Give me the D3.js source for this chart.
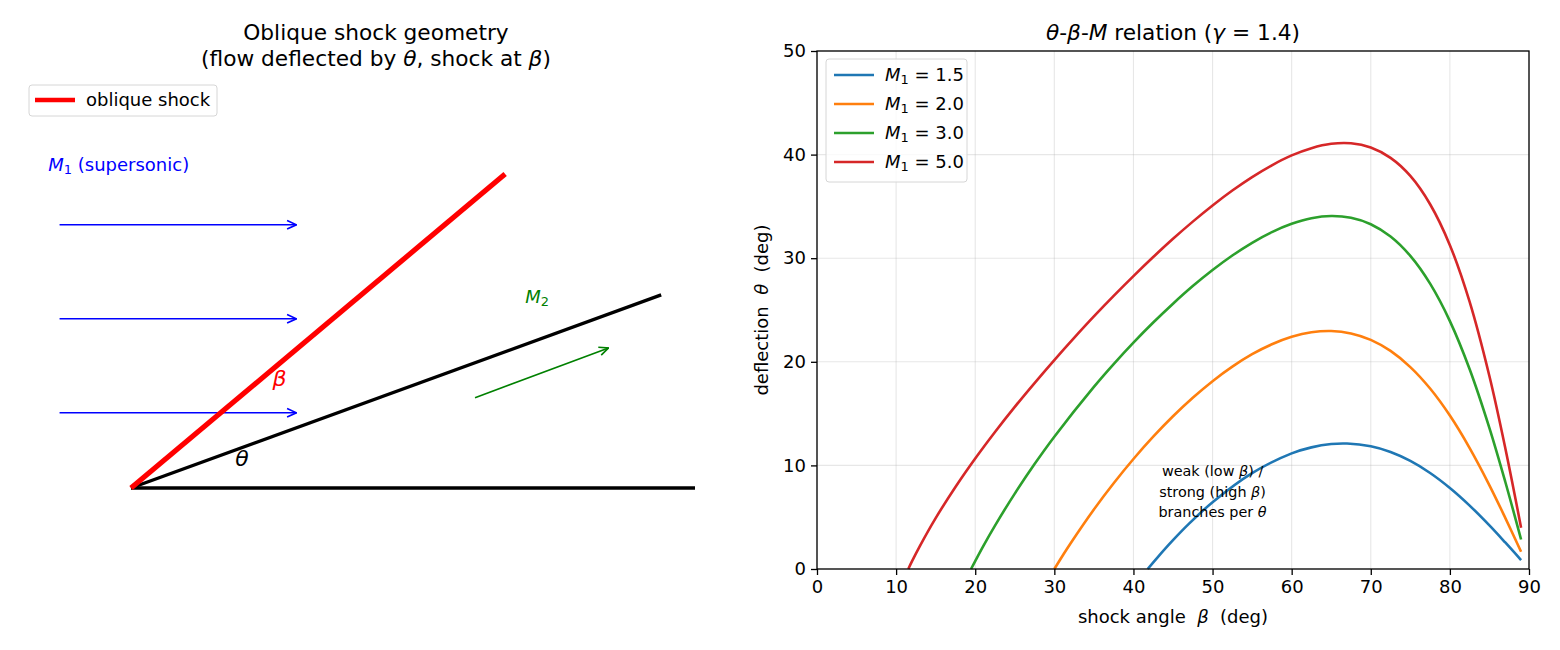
<!DOCTYPE html>
<meta charset="utf-8">
<script src="https://d3js.org/d3.v7.min.js"></script>
<style>
  body { margin: 0; background: #fff; }
  text { font-family: "DejaVu Sans", sans-serif; white-space: pre; }
</style>
<div id="chart"></div>
<script>

// ---- data: theta-beta-M curves (beta deg, theta deg) ----
var machLabels = ["1.5", "2.0", "3.0", "5.0"];
var colors = ["#1f77b4", "#ff7f0e", "#2ca02c", "#d62728"];

var betaM15  = [41.8, 43, 45, 47, 50, 55, 60, 62.5, 65, 67, 70, 72.5, 75, 77.5, 80, 82.5, 85, 87, 89];
var thetaM15 = [0, 1.08, 2.78, 4.35, 6.45, 9.26, 11.16, 11.74, 12.06, 12.11, 11.84, 11.29, 10.43, 9.27, 7.82, 6.12, 4.21, 2.56, 0.86];

var betaM20  = [30, 31, 32, 35, 37.5, 40, 42.5, 45, 47.5, 50, 52.5, 55, 57.5, 60, 62.5, 65, 67.5, 70, 72.5, 75, 77.5, 80, 82.5, 85, 87, 89];
var thetaM20 = [0, 1.23, 2.42, 5.75, 8.28, 10.62, 12.77, 14.74, 16.53, 18.13, 19.53, 20.73, 21.69, 22.41, 22.85, 22.97, 22.74, 22.12, 21.05, 19.49, 17.42, 14.81, 11.67, 8.08, 4.94, 1.67];

var betaM30  = [19.47, 20, 21, 22.5, 25, 27.5, 30, 35, 37.5, 40, 42.5, 45, 47.5, 50, 52.5, 55, 57.5, 60, 62.5, 65, 67.5, 70, 72.5, 75, 77.5, 80, 82.5, 85, 87, 89];
var thetaM30 = [0, 0.77, 2.19, 4.19, 7.28, 10.13, 12.77, 17.58, 19.78, 21.85, 23.79, 25.61, 27.31, 28.86, 30.26, 31.49, 32.52, 33.32, 33.86, 34.07, 33.90, 33.28, 32.09, 30.22, 27.54, 23.93, 19.28, 13.60, 8.42, 2.85];

var betaM50  = [11.54, 12, 13, 15, 17.5, 20, 22.5, 25, 27.5, 30, 32.5, 35, 37.5, 40, 42.5, 45, 47.5, 50, 52.5, 55, 57.5, 60, 62.5, 65, 67.5, 70, 72.5, 75, 77.5, 80, 82.5, 85, 87, 89];
var thetaM50 = [0, 0.73, 2.21, 4.91, 7.92, 10.67, 13.23, 15.65, 17.95, 20.17, 22.31, 24.38, 26.36, 28.27, 30.11, 31.87, 33.53, 35.09, 36.53, 37.83, 38.97, 39.92, 40.62, 41.04, 41.09, 40.68, 39.68, 37.94, 35.21, 31.26, 25.78, 18.60, 11.68, 3.99];

var betaSeries  = [betaM15, betaM20, betaM30, betaM50];
var thetaSeries = [thetaM15, thetaM20, thetaM30, thetaM50];

var xTicks = [0, 10, 20, 30, 40, 50, 60, 70, 80, 90];
var yTicks = [0, 10, 20, 30, 40, 50];

// ---- data: geometry sketch (arbitrary length units) ----
var wallX = [0, 3], wallY = [0, 0];
var deflX = [0, 2.82], deflY = [0, 1.027];
var shockX = [0, 1.99], shockY = [0, 1.67];
var flowY = [0.4, 0.9, 1.4];
var flowX = [-0.38, 0.88];
var downX = [1.83, 2.54], downY = [0.48, 0.745];

var W = 1560, H = 650;
var svg = d3.select("#chart").append("svg")
  .attr("width", W).attr("height", H)
  .attr("viewBox", "0 0 " + W + " " + H);

var defs = svg.append("defs");
function arrowMarker(id, color) {
  defs.append("marker")
    .attr("id", id)
    .attr("viewBox", "0 0 10 10")
    .attr("refX", 9.5).attr("refY", 5)
    .attr("markerWidth", 11).attr("markerHeight", 11)
    .attr("markerUnits", "userSpaceOnUse")
    .attr("orient", "auto")
    .append("path")
      .attr("d", "M1,1.2 L9.5,5 L1,8.8")
      .attr("fill", "none")
      .attr("stroke", color)
      .attr("stroke-width", 1.5);
}
arrowMarker("arrBlue", "blue");
arrowMarker("arrGreen", "green");

// helper: write rich text with italic math symbols / subscripts
function rich(sel, parts) {
  parts.forEach(function(p) {
    var t = sel.append("tspan").text(p.t);
    if (p.i) t.style("font-style", "italic");
    if (p.sub) t.attr("baseline-shift", "-25%").style("font-size", "72%");
  });
  return sel;
}

var FS = 18;     // 10pt
var FT = 21.7;   // 12pt

// =============== LEFT PANEL: geometry ===============
var gx = d3.scaleLinear().domain([0, 3]).range([131, 695]);
var gy = d3.scaleLinear().domain([0, 1]).range([488, 300]);
var L = svg.append("g");

var tl = L.append("text").attr("x", 376).attr("text-anchor", "middle").style("font-size", FT + "px");
tl.append("tspan").attr("x", 376).attr("y", 40).text("Oblique shock geometry");
rich(tl.append("tspan").attr("x", 376).attr("y", 66),
  [{t: "(flow deflected by "}, {t: "θ", i: 1}, {t: ", shock at "}, {t: "β", i: 1}, {t: ")"}]);

// flow arrows
flowY.forEach(function(yv) {
  L.append("line")
    .attr("x1", gx(flowX[0])).attr("y1", gy(yv))
    .attr("x2", gx(flowX[1])).attr("y2", gy(yv))
    .attr("stroke", "blue").attr("stroke-width", 1.6)
    .attr("marker-end", "url(#arrBlue)");
});

var line2 = d3.line().x(function(d) { return gx(d[0]); }).y(function(d) { return gy(d[1]); });
L.append("path").datum(d3.zip(wallX, wallY)).attr("d", line2)
  .attr("stroke", "black").attr("stroke-width", 3.4).attr("fill", "none");
L.append("path").datum(d3.zip(deflX, deflY)).attr("d", line2)
  .attr("stroke", "black").attr("stroke-width", 3.4).attr("fill", "none");
L.append("path").datum(d3.zip(shockX, shockY)).attr("d", line2)
  .attr("stroke", "red").attr("stroke-width", 5.2).attr("fill", "none");

L.append("line")
  .attr("x1", gx(downX[0])).attr("y1", gy(downY[0]))
  .attr("x2", gx(downX[1])).attr("y2", gy(downY[1]))
  .attr("stroke", "green").attr("stroke-width", 1.6)
  .attr("marker-end", "url(#arrGreen)");

rich(L.append("text").attr("x", gx(-0.44)).attr("y", gy(1.72)).attr("dy", "0.35em")
  .style("font-size", FS + "px").attr("fill", "blue"),
  [{t: "M", i: 1}, {t: "1", sub: 1}, {t: " (supersonic)"}]);
rich(L.append("text").attr("x", gx(2.16)).attr("y", gy(1.02)).attr("dy", "0.35em")
  .attr("text-anchor", "middle").style("font-size", FS + "px").attr("fill", "green"),
  [{t: "M", i: 1}, {t: "2", sub: 1}]);
L.append("text").attr("x", gx(0.79)).attr("y", gy(0.585)).attr("dy", "0.35em")
  .attr("text-anchor", "middle").style("font-size", "22px").style("font-style", "italic")
  .attr("fill", "red").text("β");
L.append("text").attr("x", gx(0.59)).attr("y", gy(0.16)).attr("dy", "0.35em")
  .attr("text-anchor", "middle").style("font-size", "22px").style("font-style", "italic")
  .attr("fill", "black").text("θ");

// legend
L.append("rect").attr("x", 29).attr("y", 85).attr("width", 188).attr("height", 31)
  .attr("rx", 3).attr("fill", "white").attr("stroke", "#d6d6d6");
L.append("line").attr("x1", 35).attr("x2", 75).attr("y1", 100).attr("y2", 100)
  .attr("stroke", "red").attr("stroke-width", 4.5);
L.append("text").attr("x", 86).attr("y", 100).attr("dy", "0.35em")
  .style("font-size", FS + "px").text("oblique shock");

// =============== RIGHT PANEL: theta-beta-M ===============
var x = d3.scaleLinear().domain([0, 90]).range([817, 1529]);
var y = d3.scaleLinear().domain([0, 50]).range([569, 51]);
var R = svg.append("g");

// grid
R.append("g").selectAll("line").data(xTicks).enter().append("line")
  .attr("x1", function(d) { return x(d); }).attr("x2", function(d) { return x(d); })
  .attr("y1", y(0)).attr("y2", y(50))
  .attr("stroke", "#b0b0b0").attr("stroke-opacity", 0.3).attr("stroke-width", 1.1);
R.append("g").selectAll("line").data(yTicks).enter().append("line")
  .attr("y1", function(d) { return y(d); }).attr("y2", function(d) { return y(d); })
  .attr("x1", x(0)).attr("x2", x(90))
  .attr("stroke", "#b0b0b0").attr("stroke-opacity", 0.3).attr("stroke-width", 1.1);

// curves
var curve = d3.line()
  .x(function(d) { return x(d[0]); })
  .y(function(d) { return y(d[1]); })
  .curve(d3.curveCatmullRom.alpha(0.5));
betaSeries.forEach(function(b, i) {
  R.append("path").datum(d3.zip(b, thetaSeries[i]))
    .attr("d", curve).attr("fill", "none")
    .attr("stroke", colors[i]).attr("stroke-width", 2.6);
});

// axes
var xAxis = R.append("g").attr("transform", "translate(0," + y(0) + ")")
  .call(d3.axisBottom(x).tickValues(xTicks).tickSize(6).tickPadding(5).tickSizeOuter(0));
var yAxis = R.append("g").attr("transform", "translate(" + x(0) + ",0)")
  .call(d3.axisLeft(y).tickValues(yTicks).tickSize(6).tickPadding(5).tickSizeOuter(0));
[xAxis, yAxis].forEach(function(a) {
  a.selectAll("text").style("font-size", FS + "px").style("font-family", "DejaVu Sans").attr("fill", "black");
  a.selectAll("line").attr("stroke", "black").attr("stroke-width", 1.3);
  a.select(".domain").remove();
});
R.append("rect").attr("x", x(0)).attr("y", y(50))
  .attr("width", x(90) - x(0)).attr("height", y(0) - y(50))
  .attr("fill", "none").attr("stroke", "black").attr("stroke-width", 1.3);

// title & labels
rich(R.append("text").attr("x", x(45)).attr("y", 40).attr("text-anchor", "middle").style("font-size", FT + "px"),
  [{t: "θ", i: 1}, {t: "-"}, {t: "β", i: 1}, {t: "-"}, {t: "M", i: 1}, {t: " relation ("}, {t: "γ", i: 1}, {t: " = 1.4)"}]);
rich(R.append("text").attr("x", x(45)).attr("y", 623).attr("text-anchor", "middle").style("font-size", FS + "px"),
  [{t: "shock angle  "}, {t: "β", i: 1}, {t: "  (deg)"}]);
rich(R.append("text").attr("transform", "translate(768," + y(25) + ") rotate(-90)")
  .attr("text-anchor", "middle").style("font-size", FS + "px"),
  [{t: "deflection  "}, {t: "θ", i: 1}, {t: "  (deg)"}]);

// annotation
var ann = R.append("text").attr("text-anchor", "middle").style("font-size", "14.4px");
rich(ann.append("tspan").attr("x", x(50)).attr("y", 476), [{t: "weak (low "}, {t: "β", i: 1}, {t: ") /"}]);
rich(ann.append("tspan").attr("x", x(50)).attr("y", 497), [{t: "strong (high "}, {t: "β", i: 1}, {t: ")"}]);
rich(ann.append("tspan").attr("x", x(50)).attr("y", 517), [{t: "branches per "}, {t: "θ", i: 1}]);

// legend
var lg = R.append("g");
lg.append("rect").attr("x", 826).attr("y", 59).attr("width", 141).attr("height", 123)
  .attr("rx", 3).attr("fill", "white").attr("fill-opacity", 0.8).attr("stroke", "#d6d6d6");
machLabels.forEach(function(m, i) {
  var yy = 75 + i * 29;
  lg.append("line").attr("x1", 834).attr("x2", 874).attr("y1", yy).attr("y2", yy)
    .attr("stroke", colors[i]).attr("stroke-width", 2.6);
  rich(lg.append("text").attr("x", 885).attr("y", yy).attr("dy", "0.35em").style("font-size", FS + "px"),
    [{t: "M", i: 1}, {t: "1", sub: 1}, {t: " = " + m}]);
});

</script>
